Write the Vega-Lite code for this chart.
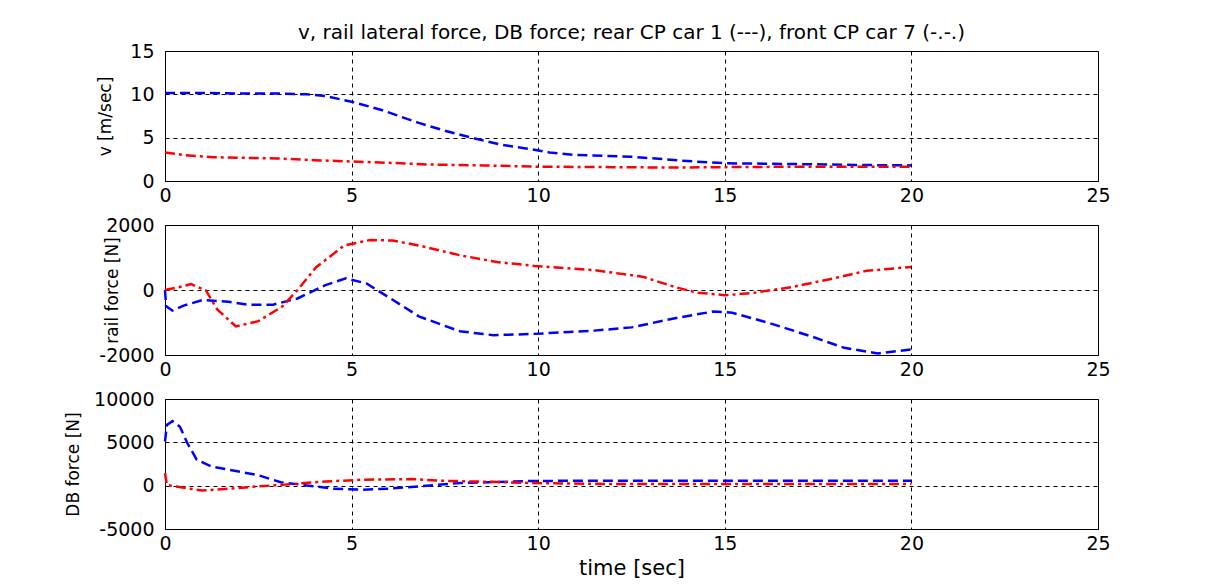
{
  "$schema": "https://vega.github.io/schema/vega-lite/v6.json",
  "padding": {"left": 63, "top": 22, "right": 5, "bottom": 5},
  "background": "white",
  "bounds": "flush",
  "spacing": 44,
  "config": {
    "font": "DejaVu Sans",
    "view": {"stroke": "black", "strokeWidth": 1},
    "axis": {
      "domain": false,
      "ticks": false,
      "grid": true,
      "gridColor": "black",
      "gridDash": [4, 4],
      "gridOpacity": 1,
      "gridWidth": 1,
      "labelColor": "black",
      "labelFont": "DejaVu Sans",
      "labelFontSize": 19,
      "labelExpr": "'' + datum.value",
      "titleColor": "black",
      "titleFont": "DejaVu Sans",
      "titleFontWeight": "normal",
      "titleFontSize": 17
    },
    "axisX": {"labelPadding": 5, "labelFlush": false},
    "axisY": {"labelPadding": 11}
  },
  "datasets": {
    "v": [
      {"t": 0, "s": "car1", "val": 10.15}, {"t": 1, "s": "car1", "val": 10.15}, {"t": 2, "s": "car1", "val": 10.1},
      {"t": 3, "s": "car1", "val": 10.1}, {"t": 3.8, "s": "car1", "val": 10.0}, {"t": 4.3, "s": "car1", "val": 9.8},
      {"t": 5, "s": "car1", "val": 9.15}, {"t": 5.8, "s": "car1", "val": 8.2}, {"t": 6.8, "s": "car1", "val": 6.7},
      {"t": 7.5, "s": "car1", "val": 5.8}, {"t": 8.3, "s": "car1", "val": 4.9}, {"t": 9, "s": "car1", "val": 4.2},
      {"t": 9.9, "s": "car1", "val": 3.6}, {"t": 10.3, "s": "car1", "val": 3.3}, {"t": 11, "s": "car1", "val": 3.0},
      {"t": 12.5, "s": "car1", "val": 2.8}, {"t": 14, "s": "car1", "val": 2.3}, {"t": 15, "s": "car1", "val": 2.05},
      {"t": 17, "s": "car1", "val": 1.95}, {"t": 18.5, "s": "car1", "val": 1.85}, {"t": 20, "s": "car1", "val": 1.8},
      {"t": 0, "s": "car7", "val": 3.3}, {"t": 0.5, "s": "car7", "val": 3.0}, {"t": 1.3, "s": "car7", "val": 2.75},
      {"t": 3, "s": "car7", "val": 2.6}, {"t": 4, "s": "car7", "val": 2.4}, {"t": 5, "s": "car7", "val": 2.25},
      {"t": 6, "s": "car7", "val": 2.1}, {"t": 7.1, "s": "car7", "val": 1.9}, {"t": 8.5, "s": "car7", "val": 1.8},
      {"t": 10, "s": "car7", "val": 1.65}, {"t": 12, "s": "car7", "val": 1.6}, {"t": 13.5, "s": "car7", "val": 1.55},
      {"t": 15, "s": "car7", "val": 1.6}, {"t": 17, "s": "car7", "val": 1.65}, {"t": 20, "s": "car7", "val": 1.65}
    ],
    "rail": [
      {"t": 0, "s": "car1", "val": 0}, {"t": 0.03, "s": "car1", "val": -500}, {"t": 0.2, "s": "car1", "val": -630},
      {"t": 0.5, "s": "car1", "val": -480}, {"t": 1.0, "s": "car1", "val": -310}, {"t": 1.7, "s": "car1", "val": -360},
      {"t": 2.2, "s": "car1", "val": -450}, {"t": 2.9, "s": "car1", "val": -450}, {"t": 3.55, "s": "car1", "val": -260},
      {"t": 4.3, "s": "car1", "val": 150}, {"t": 4.85, "s": "car1", "val": 360}, {"t": 5.4, "s": "car1", "val": 200},
      {"t": 6.1, "s": "car1", "val": -300}, {"t": 6.8, "s": "car1", "val": -810}, {"t": 7.9, "s": "car1", "val": -1270},
      {"t": 8.8, "s": "car1", "val": -1390}, {"t": 9.9, "s": "car1", "val": -1350}, {"t": 11.5, "s": "car1", "val": -1250},
      {"t": 12.5, "s": "car1", "val": -1150}, {"t": 13.7, "s": "car1", "val": -860}, {"t": 14.7, "s": "car1", "val": -660},
      {"t": 15.2, "s": "car1", "val": -700}, {"t": 16.2, "s": "car1", "val": -1020}, {"t": 17.3, "s": "car1", "val": -1420},
      {"t": 18.2, "s": "car1", "val": -1780}, {"t": 19.1, "s": "car1", "val": -1950}, {"t": 20, "s": "car1", "val": -1830},
      {"t": 0, "s": "car7", "val": 0}, {"t": 0.35, "s": "car7", "val": 80}, {"t": 0.7, "s": "car7", "val": 180},
      {"t": 1.1, "s": "car7", "val": -20}, {"t": 1.4, "s": "car7", "val": -600}, {"t": 1.9, "s": "car7", "val": -1120},
      {"t": 2.5, "s": "car7", "val": -960}, {"t": 3.15, "s": "car7", "val": -500}, {"t": 3.55, "s": "car7", "val": 0},
      {"t": 4.05, "s": "car7", "val": 700}, {"t": 4.8, "s": "car7", "val": 1370}, {"t": 5.5, "s": "car7", "val": 1540},
      {"t": 6.1, "s": "car7", "val": 1520}, {"t": 6.8, "s": "car7", "val": 1370}, {"t": 7.9, "s": "car7", "val": 1070},
      {"t": 8.9, "s": "car7", "val": 860}, {"t": 9.9, "s": "car7", "val": 740}, {"t": 11.5, "s": "car7", "val": 610},
      {"t": 12.8, "s": "car7", "val": 410}, {"t": 13.7, "s": "car7", "val": 80}, {"t": 14.25, "s": "car7", "val": -80},
      {"t": 15.0, "s": "car7", "val": -160}, {"t": 15.7, "s": "car7", "val": -100}, {"t": 16.8, "s": "car7", "val": 90},
      {"t": 17.9, "s": "car7", "val": 355}, {"t": 18.8, "s": "car7", "val": 590}, {"t": 20, "s": "car7", "val": 710}
    ],
    "db": [
      {"t": 0, "s": "car1", "val": 5100}, {"t": 0.05, "s": "car1", "val": 7000}, {"t": 0.2, "s": "car1", "val": 7450},
      {"t": 0.4, "s": "car1", "val": 6800}, {"t": 0.6, "s": "car1", "val": 4900}, {"t": 0.85, "s": "car1", "val": 3000},
      {"t": 1.25, "s": "car1", "val": 2200}, {"t": 1.9, "s": "car1", "val": 1700}, {"t": 2.5, "s": "car1", "val": 1200},
      {"t": 3.1, "s": "car1", "val": 400}, {"t": 3.8, "s": "car1", "val": 30}, {"t": 4.5, "s": "car1", "val": -350},
      {"t": 5.3, "s": "car1", "val": -460}, {"t": 6.0, "s": "car1", "val": -350}, {"t": 6.8, "s": "car1", "val": -80},
      {"t": 7.9, "s": "car1", "val": 300}, {"t": 9.9, "s": "car1", "val": 550}, {"t": 12, "s": "car1", "val": 560},
      {"t": 15, "s": "car1", "val": 580}, {"t": 18, "s": "car1", "val": 560}, {"t": 20, "s": "car1", "val": 580},
      {"t": 0, "s": "car7", "val": 1450}, {"t": 0.05, "s": "car7", "val": 100}, {"t": 0.25, "s": "car7", "val": -80},
      {"t": 1.0, "s": "car7", "val": -560}, {"t": 1.7, "s": "car7", "val": -350}, {"t": 2.5, "s": "car7", "val": -80},
      {"t": 3.2, "s": "car7", "val": 120}, {"t": 4.3, "s": "car7", "val": 480}, {"t": 5.3, "s": "car7", "val": 690},
      {"t": 6.6, "s": "car7", "val": 760}, {"t": 7.3, "s": "car7", "val": 580}, {"t": 8.9, "s": "car7", "val": 420},
      {"t": 9.9, "s": "car7", "val": 300}, {"t": 12, "s": "car7", "val": 180}, {"t": 15, "s": "car7", "val": 200},
      {"t": 18, "s": "car7", "val": 200}, {"t": 20, "s": "car7", "val": 200}
    ]
  },
  "vconcat": [
    {
      "width": 933, "height": 130,
      "title": {"text": "v, rail lateral force, DB force; rear CP car 1 (---), front CP car 7 (-.-.)", "font": "DejaVu Sans", "fontSize": 20, "fontWeight": "normal", "color": "black", "anchor": "middle", "offset": -1},
      "data": {"name": "v"},
      "mark": {"type": "line", "strokeWidth": 2.5},
      "encoding": {
        "x": {"field": "t", "type": "quantitative", "scale": {"domain": [0, 25]}, "axis": {"values": [0, 5, 10, 15, 20, 25], "title": null}},
        "y": {"field": "val", "type": "quantitative", "scale": {"domain": [0, 15]}, "axis": {"values": [0, 5, 10, 15], "title": "v [m/sec]", "titleX": -51}},
        "color": {"field": "s", "type": "nominal", "scale": {"domain": ["car1", "car7"], "range": ["#0000ff", "#ff0000"]}, "legend": null},
        "strokeDash": {"field": "s", "type": "nominal", "scale": {"domain": ["car1", "car7"], "range": [[10, 5], [10, 4, 3, 4]]}, "legend": null}
      }
    },
    {
      "width": 933, "height": 130,
      "data": {"name": "rail"},
      "mark": {"type": "line", "strokeWidth": 2.5},
      "encoding": {
        "x": {"field": "t", "type": "quantitative", "scale": {"domain": [0, 25]}, "axis": {"values": [0, 5, 10, 15, 20, 25], "title": null}},
        "y": {"field": "val", "type": "quantitative", "scale": {"domain": [-2000, 2000]}, "axis": {"values": [-2000, 0, 2000], "title": "rail force [N]", "titleX": -44}},
        "color": {"field": "s", "type": "nominal", "scale": {"domain": ["car1", "car7"], "range": ["#0000ff", "#ff0000"]}, "legend": null},
        "strokeDash": {"field": "s", "type": "nominal", "scale": {"domain": ["car1", "car7"], "range": [[10, 5], [10, 4, 3, 4]]}, "legend": null}
      }
    },
    {
      "width": 933, "height": 130,
      "data": {"name": "db"},
      "mark": {"type": "line", "strokeWidth": 2.5},
      "encoding": {
        "x": {"field": "t", "type": "quantitative", "scale": {"domain": [0, 25]}, "axis": {"values": [0, 5, 10, 15, 20, 25], "title": "time [sec]", "titleFontSize": 21, "titlePadding": 4}},
        "y": {"field": "val", "type": "quantitative", "scale": {"domain": [-5000, 10000]}, "axis": {"values": [-5000, 0, 5000, 10000], "title": "DB force [N]", "titleX": -83}},
        "color": {"field": "s", "type": "nominal", "scale": {"domain": ["car1", "car7"], "range": ["#0000ff", "#ff0000"]}, "legend": null},
        "strokeDash": {"field": "s", "type": "nominal", "scale": {"domain": ["car1", "car7"], "range": [[10, 5], [10, 4, 3, 4]]}, "legend": null}
      }
    }
  ]
}
